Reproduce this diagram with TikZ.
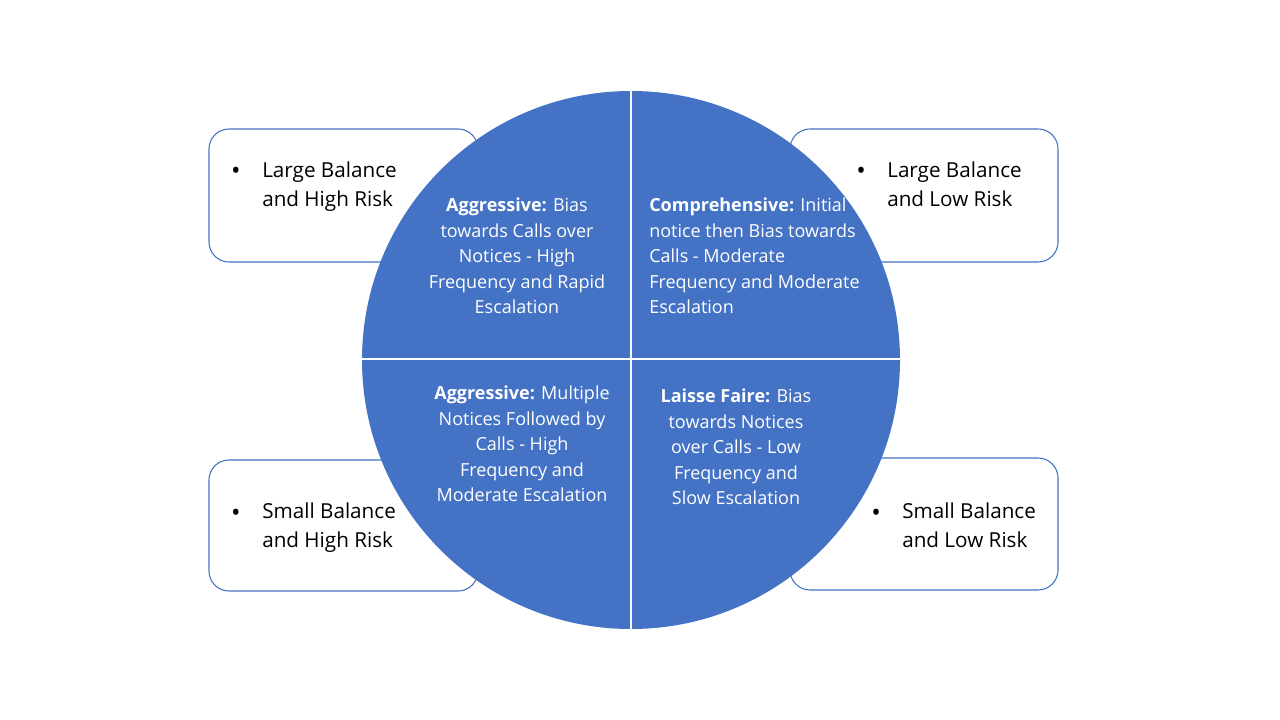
\documentclass[tikz,border=0pt]{standalone}
\usepackage{fontspec}
\setmainfont{Open Sans}
\definecolor{qblue}{HTML}{4472C4}
\begin{document}
\begin{tikzpicture}[x=0.75pt,y=-0.75pt,
  sidebox/.style={draw=qblue,line width=0.8pt,fill=white,rounded corners=15pt},
  qtext/.style={text=white,font=\fontsize{13.5pt}{19.1pt}\selectfont,inner sep=0pt},
  btext/.style={text=black,font=\fontsize{15.5pt}{21.75pt}\selectfont,inner sep=0pt,align=left,anchor=west},
  bullet/.style={text=black,font=\fontsize{19pt}{21.75pt}\selectfont,inner sep=0pt}]
\useasboundingbox[fill=white] (0,0) rectangle (1280,720);
% side boxes
\draw[sidebox] (209,129) rectangle (478,262);
\draw[sidebox] (790,129) rectangle (1058,262);
\draw[sidebox] (209,460) rectangle (478,591);
\draw[sidebox] (790,458) rectangle (1058,590);
% circle
\fill[qblue] (631,360) circle[radius=269];
\draw[white,line width=1.5pt] (631,91) -- (631,629);
\draw[white,line width=1.5pt] (362,359) -- (900,359);
% quadrant texts
\node[qtext,align=center] (tl) at (517,256) {\textbf{Aggressive:} Bias\\towards Calls over\\Notices - High\\Frequency and Rapid\\Escalation};
\node[qtext,align=left,anchor=west] (tr) at (649,256) {\textbf{Comprehensive:} Initial\\notice then Bias towards\\Calls - Moderate\\Frequency and Moderate\\Escalation};
\node[qtext,align=center] (bl) at (522,444) {\textbf{Aggressive:} Multiple\\Notices Followed by\\Calls - High\\Frequency and\\Moderate Escalation};
\node[qtext,align=center] (br) at (736,447) {\textbf{Laisse Faire:} Bias\\towards Notices\\over Calls - Low\\Frequency and\\Slow Escalation};
% box texts
\node[bullet] (b1) at (236,173) {•};
\node[btext] (t1) at (262,186) {Large Balance\strut\\and High Risk\strut};
\node[bullet] (b2) at (861,173) {•};
\node[btext] (t2) at (887,186) {Large Balance\strut\\and Low Risk\strut};
\node[bullet] (b3) at (236,515) {•};
\node[btext] (t3) at (262,527) {Small Balance\strut\\and High Risk\strut};
\node[bullet] (b4) at (876,515) {•};
\node[btext] (t4) at (902,527) {Small Balance\strut\\and Low Risk\strut};
\end{tikzpicture}
\end{document}
